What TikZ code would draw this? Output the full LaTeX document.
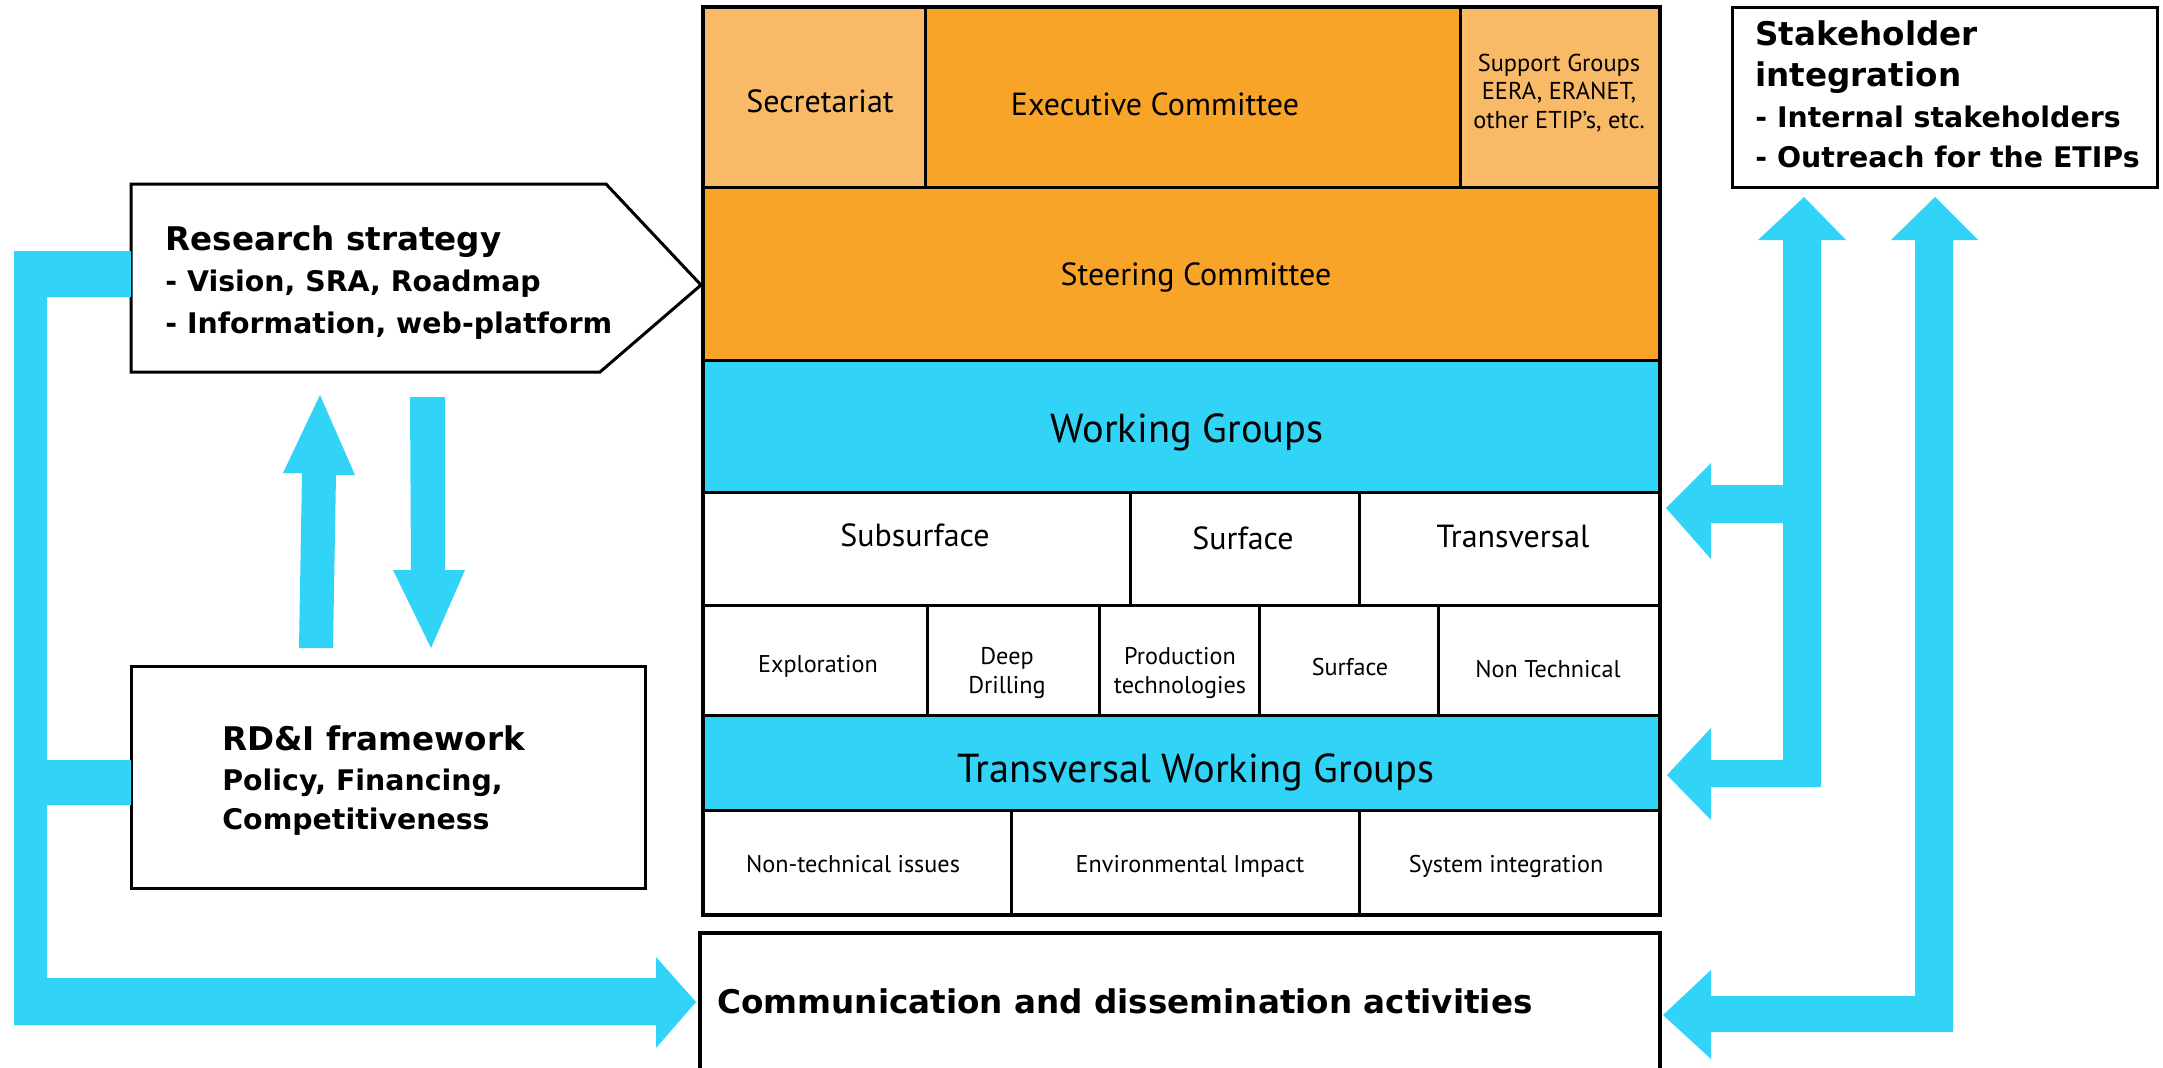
\documentclass[tikz,border=0pt]{standalone}
\usepackage{fontspec}
\setmainfont{PT Sans}
\newfontfamily\dvs{DejaVu Sans}
\definecolor{skyb}{RGB}{49,211,247}
\definecolor{orgd}{RGB}{247,164,41}
\definecolor{orgl}{RGB}{248,186,103}
\tikzset{
  cellbox/.style={draw=black,line width=1.5pt},
  outerbox/.style={draw=black,line width=2pt},
  fatarrow/.style={fill=skyb,draw=none},
  bt/.style={anchor=base west,inner sep=0pt,font=\dvs\bfseries\fontsize{14.2}{17}\selectfont},
  bth/.style={anchor=base west,inner sep=0pt,font=\dvs\bfseries\fontsize{16.3}{19}\selectfont},
  mt/.style={anchor=base,inner sep=0pt,font=\fontsize{16}{18}\selectfont},
  lt/.style={anchor=base,inner sep=0pt,font=\fontsize{20.2}{22}\selectfont},
  st/.style={anchor=base,inner sep=0pt,font=\fontsize{12.1}{14}\selectfont},
  xt/.style={anchor=base,inner sep=0pt,font=\fontsize{12.2}{13}\selectfont},
}
\begin{document}
\begin{tikzpicture}[x=0.5pt,y=-0.5pt]
\useasboundingbox[fill=white] (0,0) rectangle (2163,1067);

% ---------- central column cells ----------
\path[cellbox,fill=orgl] (703,7) rectangle (925,187);
\path[cellbox,fill=orgd] (925,7) rectangle (1460,187);
\path[cellbox,fill=orgl] (1460,7) rectangle (1660,187);
\path[cellbox,fill=orgd] (703,187) rectangle (1660,360);
\path[cellbox,fill=skyb] (703,360) rectangle (1660,492);
\path[cellbox,fill=white] (703,492) rectangle (1130,605);
\path[cellbox,fill=white] (1130,492) rectangle (1359,605);
\path[cellbox,fill=white] (1359,492) rectangle (1660,605);
\path[cellbox,fill=white] (703,605) rectangle (927,715);
\path[cellbox,fill=white] (927,605) rectangle (1099,715);
\path[cellbox,fill=white] (1099,605) rectangle (1259,715);
\path[cellbox,fill=white] (1259,605) rectangle (1438,715);
\path[cellbox,fill=white] (1438,605) rectangle (1660,715);
\path[cellbox,fill=skyb] (703,715) rectangle (1660,810);
\path[cellbox,fill=white] (703,810) rectangle (1011,915);
\path[cellbox,fill=white] (1011,810) rectangle (1359,915);
\path[cellbox,fill=white] (1359,810) rectangle (1660,915);
\path[outerbox] (703,7) rectangle (1660,915);

\node[mt] (sec) at (820,112) {Secretariat};
\node[mt] (exec) at (1155,115) {Executive Committee};
\node[xt] (sup1) at (1559,71) {Support Groups};
\node[xt] (sup2) at (1559,99) {EERA, ERANET,};
\node[xt] (sup3) at (1559,128) {other ETIP’s, etc.};
\node[mt] (steer) at (1196,285) {Steering Committee};
\node[lt] (wg) at (1187,442) {Working Groups};
\node[mt] (subs) at (915,546) {Subsurface};
\node[mt] (surf) at (1243,549) {Surface};
\node[mt] (trans) at (1513,547) {Transversal};
\node[st] (expl) at (818,672) {Exploration};
\node[st] (deep1) at (1007,664) {Deep};
\node[st] (deep2) at (1007,693) {Drilling};
\node[st] (prod1) at (1180,664) {Production};
\node[st] (prod2) at (1180,693) {technologies};
\node[st] (surf2) at (1350,675) {Surface};
\node[st] (nontech) at (1548,677) {Non Technical};
\node[lt] (twg) at (1196,782) {Transversal Working Groups};
\node[st] (nti) at (853,872) {Non-technical issues};
\node[st] (env) at (1190,872) {Environmental Impact};
\node[st] (sysint) at (1506,872) {System integration};

% ---------- communication box ----------
\path[outerbox,fill=white] (700,933) rectangle (1660,1090);
\node[bth] (comm) at (717,1013) {Communication and dissemination activities};

% ---------- research strategy ----------
\path[draw=black,line width=1.5pt,fill=white,line join=miter]
  (131,184) -- (606,184) -- (701,285) -- (600,372) -- (131,372) -- cycle;
\node[bth] (rs1) at (165,250) {Research strategy};
\node[bt] (rs2) at (165,291) {- Vision, SRA, Roadmap};
\node[bt] (rs3) at (165,333) {- Information, web-platform};

% ---------- RD&I framework ----------
\path[draw=black,line width=1.5pt,fill=white] (131,666) rectangle (645,888);
\node[bth] (rd1) at (222,750) {RD\&I framework};
\node[bt] (rd2) at (222,790) {Policy, Financing,};
\node[bt] (rd3) at (222,829) {Competitiveness};

% ---------- stakeholder integration ----------
\path[draw=black,line width=1.5pt,fill=white] (1732,7) rectangle (2157,187);
\node[bth] (sh1) at (1755,45) {Stakeholder};
\node[bth] (sh2) at (1755,86) {integration};
\node[bt] (sh3) at (1755,127) {- Internal stakeholders};
\node[bt] (sh4) at (1755,167) {- Outreach for the ETIPs};

% ---------- fat blue arrows ----------
% left loop
\path[fatarrow] (14,251) -- (131,251) -- (131,297) -- (47,297) -- (47,760)
  -- (131,760) -- (131,805) -- (47,805) -- (47,978) -- (656,978) -- (656,957)
  -- (696,1002) -- (656,1048) -- (656,1025) -- (14,1025) -- cycle;
% up arrow
\path[fatarrow] (299,648) -- (302,473) -- (283,473) -- (320,395) -- (355,475)
  -- (336,475) -- (333,648) -- cycle;
% down arrow
\path[fatarrow] (410,397) -- (445,397) -- (445,570) -- (465,570) -- (431,648)
  -- (393,570) -- (411,570) -- cycle;
% right arrow 1
\path[fatarrow] (1804,197) -- (1846,240) -- (1821,240) -- (1821,787) -- (1711,787)
  -- (1711,820) -- (1667,775) -- (1711,728) -- (1711,760) -- (1783,760)
  -- (1783,523) -- (1711,523) -- (1711,559) -- (1666,508) -- (1711,463)
  -- (1711,485) -- (1783,485) -- (1783,240) -- (1758,240) -- cycle;
% right arrow 2
\path[fatarrow] (1935,197) -- (1978,240) -- (1953,240) -- (1953,1032) -- (1711,1032)
  -- (1711,1059) -- (1663,1015) -- (1711,970) -- (1711,996) -- (1915,996)
  -- (1915,240) -- (1891,240) -- cycle;
\end{tikzpicture}
\end{document}
